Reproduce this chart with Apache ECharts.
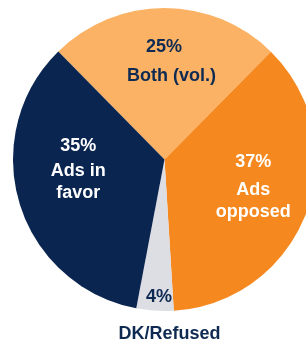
<!DOCTYPE html>
<html>
<head>
<meta charset="utf-8">
<script src="https://cdn.jsdelivr.net/npm/echarts@6/dist/echarts.min.js"></script>
<style>
  html, body { margin: 0; padding: 0; background: #fff; }
  #chart { width: 306px; height: 343px; }
</style>
</head>
<body>
<div id="chart"></div>
<script>
// slice data, clockwise from the top-left edge
const names = ['Both (vol.)', 'Ads\nopposed', 'DK/Refused', 'Ads in\nfavor']
const shares = [25, 37, 4, 35]

const colors = ['#fbb264', '#f5891f', '#dddde4', '#0a2550']
const textColors = ['#0e2a52', '#ffffff', '#0e2a52', '#ffffff']
// line heights for the percent line / name lines, and how far each label sits from the default spot
const pctLineHeight = [37, 34, 22, 27]
const nameLineHeight = [22, 22, 52, 22]
const pctPadRight = [15, 0, 21, 0]
const labelShift = [[7, -23], [15, -3], [10, 85], [-11, -14]]

const chart = echarts.init(document.getElementById('chart'))

const font = { fontFamily: 'Liberation Sans, Arial, sans-serif', fontWeight: 'bold', fontSize: 18 }

const data = names.map((name, i) => ({
  name: name,
  value: shares[i],
  itemStyle: { color: colors[i] },
  label: {
    formatter: '{p|' + shares[i] + '%}\n' + name.split('\n').map(s => '{n|' + s + '}').join('\n'),
    rich: {
      p: Object.assign({ color: textColors[i], lineHeight: pctLineHeight[i], padding: [0, pctPadRight[i], 0, 0] }, font),
      n: Object.assign({ color: textColors[i], lineHeight: nameLineHeight[i] }, font)
    }
  }
}))

chart.setOption({
  animation: false,
  series: [
    {
      type: 'pie',
      center: [164.5, 159.5],
      radius: 151.5,
      startAngle: 134.5,
      clockwise: true,
      silent: true,
      label: {
        show: true,
        position: 'inside'
      },
      labelLine: { show: false },
      labelLayout: function (params) {
        const s = labelShift[params.dataIndex]
        return { dx: s[0], dy: s[1] }
      },
      data: data
    }
  ]
})
</script>
</body>
</html>
